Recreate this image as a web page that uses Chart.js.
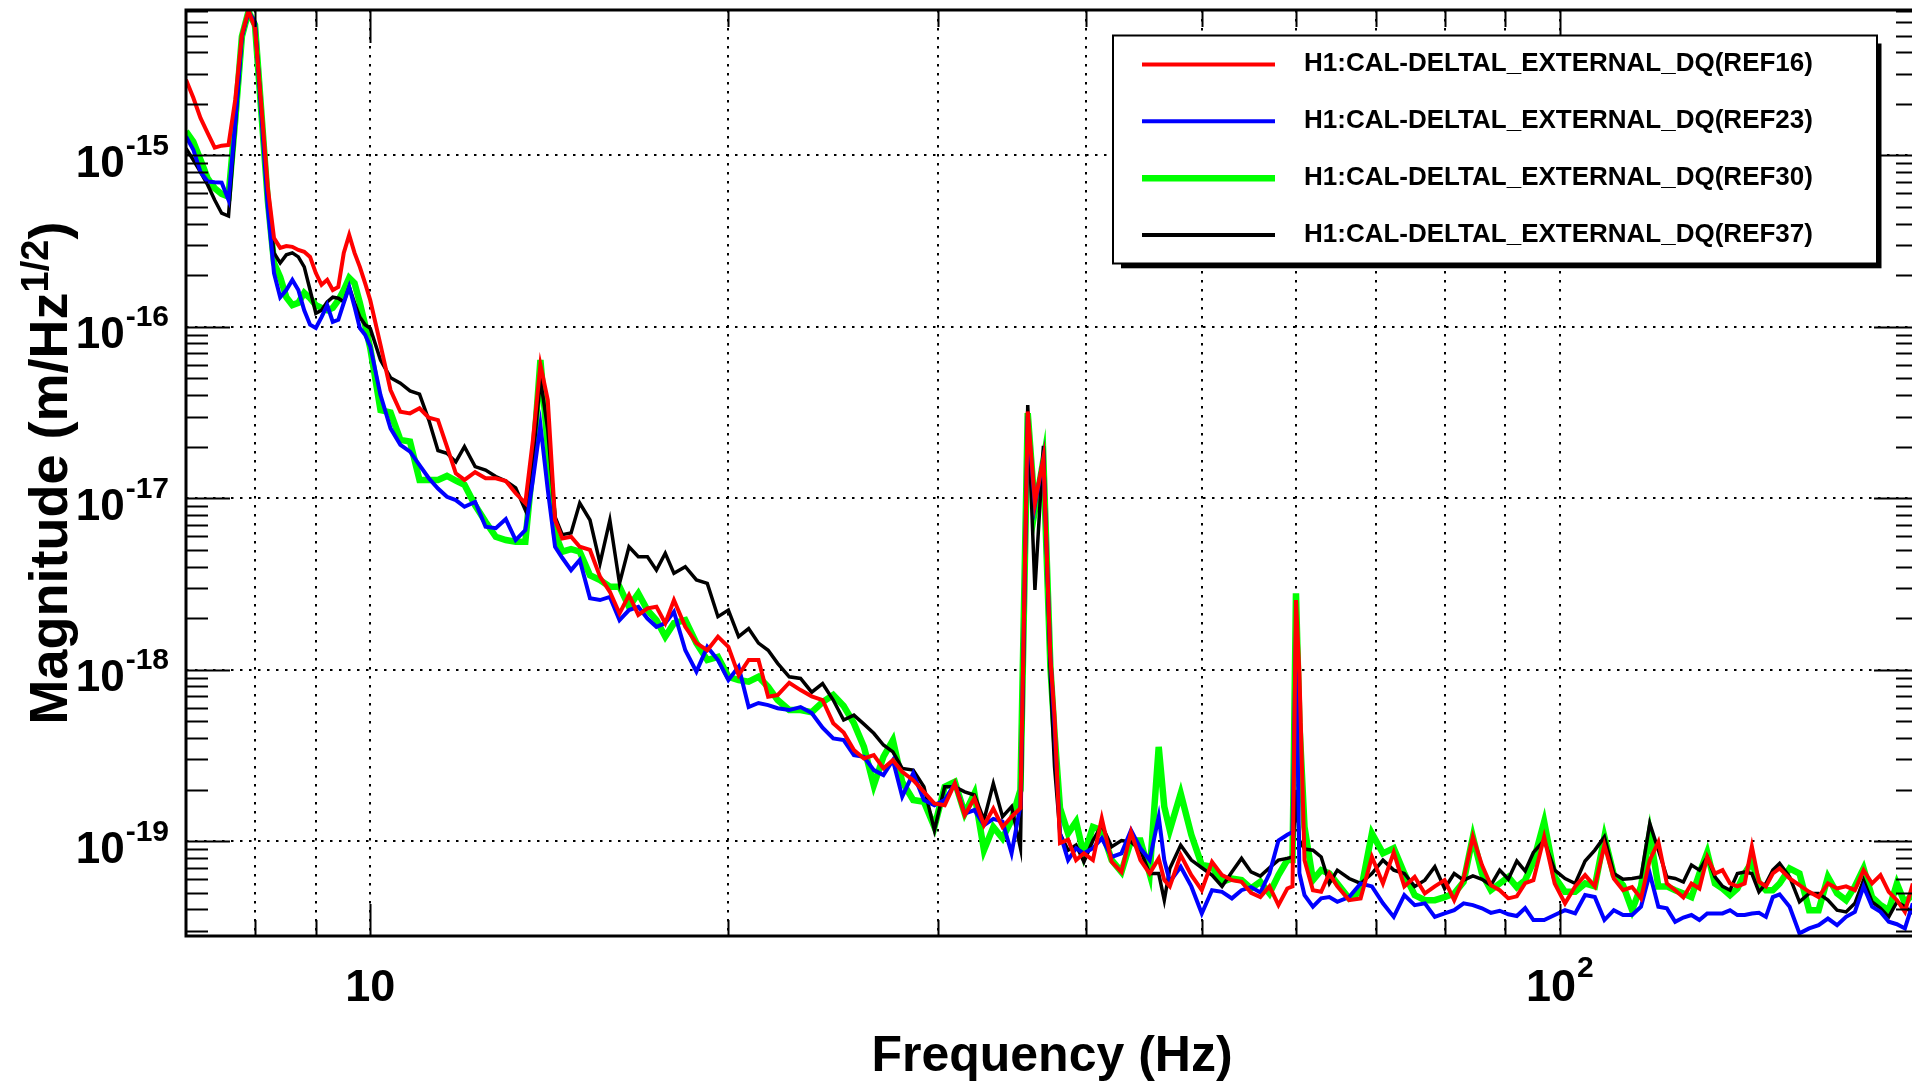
<!DOCTYPE html>
<html>
<head>
<meta charset="utf-8">
<title>H1:CAL-DELTAL_EXTERNAL_DQ</title>
<script src="https://cdn.jsdelivr.net/npm/chart.js@4.4.1/dist/chart.umd.min.js"></script>
<style>
  html, body { margin: 0; padding: 0; background: #fff; overflow: hidden; }
  #grafica { display: block; }
</style>
</head>
<body>
<canvas id="grafica" width="1925" height="1082"></canvas>
<script>

const freqs = [
  7.0,7.1,7.2,7.3,7.4,7.5,7.6,7.7,7.8,7.9,8.0,8.1,8.2,8.3,8.4,8.5,8.6,8.7,8.8,8.9,9.0,9.1,9.2,9.3,9.4,9.5,9.6,9.7,9.8,9.9,
  10.0,10.2,10.4,10.6,10.8,11.0,11.2,11.4,11.6,11.8,12.0,12.25,12.5,12.75,13.0,13.25,13.5,
  13.7,13.9,14.1,14.3,14.5,14.75,15.0,15.3,15.6,15.9,16.2,16.5,16.8,17.1,17.4,17.7,18.0,
  18.4,18.8,19.2,19.6,20.0,20.4,20.8,21.2,21.6,22.0,22.5,23.0,23.5,24.0,
  24.5,25.0,25.5,26.0,26.5,27.0,27.5,28.0,28.6,29.2,29.8,30.4,31.0,31.6,32.2,32.8,33.4,34.0,34.6,35.2,
  35.7,36.2,36.8,37.3,37.6,38.0,38.6,39.2,39.8,40.5,41.2,42.0,42.8,
  43.6,44.4,45.2,46.0,46.5,47.0,48.0,49.0,50.0,51.0,52.0,53.0,54.0,55.0,56.0,57.0,58.0,59.0,59.6,
  60.0,60.4,61.0,62.0,63.0,64.0,65.0,66.5,68.0,69.5,71.0,72.5,74.0,75.5,77.0,78.5,80.0,81.5,83.0,84.5,86.0,87.5,89.0,90.5,92.0,93.5,95.0,
  97,99,101,103,105,107,109,111,113,115,117,119,121,123,125,127,129,131,133,135,137,139,141,143,145,147,149,151,153,
  156,159,162,165,168,171,174,177,180,183,186,189,192,195,198
]

const ref16 = [
  2.76e-15,2.17e-15,1.65e-15,1.35e-15,1.11e-15,1.14e-15,1.15e-15,2.11e-15,5.05e-15,7.0e-15,5.54e-15,1.92e-15,6.55e-16,3.30e-16,2.89e-16,2.96e-16,2.93e-16,2.81e-16,2.74e-16,2.56e-16,2.06e-16,1.76e-16,1.88e-16,1.64e-16,1.71e-16,2.70e-16,3.44e-16,2.70e-16,2.24e-16,1.80e-16,
  1.43e-16,7.85e-17,4.28e-17,3.20e-17,3.13e-17,3.35e-17,2.95e-17,2.86e-17,2.00e-17,1.40e-17,1.28e-17,1.42e-17,1.31e-17,1.31e-17,1.26e-17,1.07e-17,9.38e-18,
  2.19e-17,6.0e-17,3.74e-17,7.47e-18,5.84e-18,5.97e-18,5.22e-18,5.0e-18,3.49e-18,2.85e-18,2.13e-18,2.73e-18,2.09e-18,2.28e-18,2.33e-18,1.87e-18,2.55e-18,
  1.78e-18,1.43e-18,1.30e-18,1.56e-18,1.36e-18,9.31e-19,1.14e-18,1.14e-18,6.96e-19,7.12e-19,8.4e-19,7.61e-19,7.0e-19,6.66e-19,
  4.88e-19,4.3e-19,3.40e-19,3.04e-19,3.18e-19,2.66e-19,2.97e-19,2.54e-19,2.27e-19,1.94e-19,1.66e-19,1.62e-19,2.17e-19,1.42e-19,1.78e-19,1.24e-19,1.55e-19,1.21e-19,1.39e-19,1.56e-19,
  3.21e-17,9.4e-18,1.72e-17,1.19e-18,5.32e-19,9.75e-20,1.02e-19,7.76e-20,8.5e-20,7.76e-20,1.36e-19,7.58e-20,6.62e-20,
  1.13e-19,7.76e-20,6.48e-20,7.94e-20,5.93e-20,5.45e-20,8.30e-20,6.34e-20,5.18e-20,7.58e-20,6.34e-20,5.93e-20,5.80e-20,5.0e-20,4.72e-20,5.45e-20,4.24e-20,5.3e-20,5.45e-20,
  2.55e-18,9.55e-19,7.76e-20,5.18e-20,5.07e-20,6.48e-20,5.45e-20,4.53e-20,4.64e-20,8.1e-20,5.67e-20,8.6e-20,5.45e-20,6.19e-20,4.96e-20,5.45e-20,5.93e-20,4.53e-20,6.06e-20,1.06e-19,7.26e-20,5.54e-20,5.18e-20,4.64e-20,4.77e-20,5.70e-20,5.93e-20,
  1.06e-19,5.67e-20,4.34e-20,5.45e-20,6.34e-20,5.45e-20,9.49e-20,6.06e-20,5.18e-20,5.4e-20,4.64e-20,7.76e-20,9.9e-20,5.67e-20,5.18e-20,4.7e-20,5.67e-20,5.3e-20,8.1e-20,6.48e-20,6.78e-20,5.67e-20,5.45e-20,5.67e-20,9.3e-20,5.80e-20,5.45e-20,6.48e-20,6.94e-20,
  6.06e-20,5.54e-20,5.07e-20,4.72e-20,5.67e-20,5.3e-20,5.45e-20,5.18e-20,6.78e-20,5.67e-20,6.34e-20,5.07e-20,4.53e-20,3.87e-20,5.67e-20
]

const ref23 = [
  1.29e-15,1.08e-15,8.0e-16,7.04e-16,6.98e-16,6.94e-16,5.5e-16,1.55e-15,4.94e-15,6.9e-15,5.95e-15,1.72e-15,5.0e-16,2.06e-16,1.49e-16,1.64e-16,1.88e-16,1.64e-16,1.25e-16,1.03e-16,9.85e-17,1.14e-16,1.34e-16,1.07e-16,1.10e-16,1.38e-16,1.71e-16,1.31e-16,9.85e-17,9.0e-17,
  7.7e-17,4.0e-17,2.56e-17,2.05e-17,1.87e-17,1.56e-17,1.31e-17,1.14e-17,1.02e-17,9.77e-18,8.93e-18,9.54e-18,6.83e-18,6.69e-18,7.57e-18,5.71e-18,6.53e-18,
  1.28e-17,2.68e-17,1.12e-17,5.22e-18,4.5e-18,3.81e-18,4.37e-18,2.61e-18,2.55e-18,2.66e-18,1.95e-18,2.23e-18,2.33e-18,1.99e-18,1.78e-18,1.87e-18,2.18e-18,
  1.30e-18,9.75e-19,1.36e-18,1.14e-18,8.71e-19,1.04e-18,6.06e-19,6.4e-19,6.22e-19,5.97e-19,5.82e-19,6.06e-19,5.6e-19,4.6e-19,
  3.98e-19,3.89e-19,3.18e-19,3.11e-19,2.60e-19,2.43e-19,2.97e-19,1.82e-19,2.49e-19,1.74e-19,1.62e-19,1.74e-19,2.17e-19,1.45e-19,1.52e-19,1.24e-19,1.35e-19,1.30e-19,8.5e-20,1.62e-19,
  3.02e-17,9.1e-18,1.72e-17,1.19e-18,4.66e-19,1.11e-19,7.76e-20,9.1e-20,8.5e-20,9.1e-20,1.04e-19,8.1e-20,8.5e-20,
  1.16e-19,9.1e-20,7.76e-20,1.39e-19,7.76e-20,5.8e-20,7.1e-20,5.45e-20,3.79e-20,5.18e-20,5.07e-20,4.64e-20,5.18e-20,5.4e-20,5.02e-20,6.48e-20,1.01e-19,1.09e-19,1.13e-19,
  1.70e-18,6.5e-20,4.85e-20,4.15e-20,4.64e-20,4.72e-20,4.43e-20,4.72e-20,5.67e-20,5.45e-20,4.34e-20,3.62e-20,4.85e-20,4.24e-20,4.34e-20,3.62e-20,3.79e-20,3.96e-20,4.34e-20,4.24e-20,4.06e-20,3.82e-20,3.93e-20,3.75e-20,3.66e-20,4.07e-20,3.47e-20,
  3.47e-20,3.71e-20,3.96e-20,3.79e-20,4.85e-20,4.72e-20,3.47e-20,3.96e-20,3.71e-20,3.71e-20,4.15e-20,6.48e-20,4.15e-20,4.06e-20,3.39e-20,3.59e-20,3.71e-20,3.47e-20,3.79e-20,3.79e-20,3.79e-20,3.96e-20,3.71e-20,3.71e-20,3.79e-20,3.82e-20,3.62e-20,4.72e-20,4.9e-20,
  4.15e-20,2.9e-20,3.1e-20,3.24e-20,3.54e-20,3.24e-20,3.62e-20,3.87e-20,5.45e-20,4.15e-20,3.87e-20,3.39e-20,3.28e-20,3.1e-20,4.34e-20
]

const ref30 = [
  1.38e-15,1.20e-15,9.4e-16,7.35e-16,6.44e-16,5.96e-16,5.75e-16,1.61e-15,4.94e-15,6.9e-15,5.77e-15,1.77e-15,5.5e-16,2.36e-16,1.95e-16,1.49e-16,1.34e-16,1.38e-16,1.58e-16,1.47e-16,1.34e-16,1.29e-16,1.25e-16,1.29e-16,1.43e-16,1.64e-16,1.93e-16,1.80e-16,1.38e-16,1.03e-16,
  7.5e-17,3.27e-17,3.17e-17,2.19e-17,2.14e-17,1.28e-17,1.28e-17,1.28e-17,1.35e-17,1.27e-17,1.20e-17,9.1e-18,7.3e-18,5.97e-18,5.71e-18,5.58e-18,5.58e-18,
  1.61e-17,6.4e-17,2.0e-17,6.24e-18,4.88e-18,5.05e-18,4.88e-18,3.56e-18,3.34e-18,3.05e-18,3.05e-18,2.33e-18,2.79e-18,2.23e-18,1.95e-18,1.56e-18,1.87e-18,
  1.95e-18,1.43e-18,1.14e-18,1.19e-18,9.1e-19,8.71e-19,8.53e-19,9.1e-19,7.94e-19,6.66e-19,5.82e-19,5.82e-19,5.66e-19,6.48e-19,
  7.12e-19,6.14e-19,4.88e-19,3.55e-19,2.12e-19,3.11e-19,3.89e-19,2.22e-19,1.74e-19,1.70e-19,1.21e-19,2.08e-19,2.22e-19,1.45e-19,1.90e-19,8.87e-20,1.21e-19,1.04e-19,1.33e-19,1.99e-19,
  3.14e-17,8.55e-18,1.67e-17,1.04e-18,4.27e-19,1.56e-19,1.11e-19,1.30e-19,8.30e-20,1.21e-19,1.16e-19,7.76e-20,6.62e-20,
  1.01e-19,1.01e-19,6.48e-20,3.55e-19,1.59e-19,1.16e-19,1.90e-19,1.09e-19,7.26e-20,7.1e-20,5.8e-20,6.06e-20,5.93e-20,5.3e-20,5.8e-20,4.96e-20,6.34e-20,7.76e-20,7.76e-20,
  2.79e-18,4.9e-19,1.21e-19,5.93e-20,6.78e-20,6.48e-20,5.67e-20,4.64e-20,5.07e-20,1.11e-19,8.5e-20,9.1e-20,6.48e-20,4.85e-20,4.53e-20,4.53e-20,4.72e-20,4.96e-20,5.8e-20,1.06e-19,6.48e-20,5.18e-20,5.67e-20,6.19e-20,5.4e-20,5.93e-20,7.58e-20,
  1.30e-19,6.19e-20,5.07e-20,5.07e-20,5.67e-20,5.45e-20,1.06e-19,6.34e-20,5.54e-20,3.96e-20,5.45e-20,1.11e-19,5.45e-20,5.45e-20,5.18e-20,4.96e-20,4.72e-20,6.48e-20,8.6e-20,5.67e-20,5.3e-20,4.85e-20,5.3e-20,6.48e-20,7.58e-20,5.73e-20,5.18e-20,5.18e-20,5.67e-20,
  6.94e-20,6.48e-20,3.96e-20,3.96e-20,6.19e-20,4.96e-20,4.53e-20,5.45e-20,6.94e-20,4.72e-20,4.24e-20,3.96e-20,5.67e-20,4.34e-20,4.96e-20
]

const ref37 = [
  1.10e-15,9.4e-16,8.0e-16,6.73e-16,5.5e-16,4.6e-16,4.43e-16,1.47e-15,4.94e-15,6.9e-15,5.95e-15,1.84e-15,5.73e-16,2.70e-16,2.36e-16,2.63e-16,2.70e-16,2.56e-16,2.24e-16,1.64e-16,1.20e-16,1.25e-16,1.40e-16,1.49e-16,1.47e-16,1.40e-16,1.71e-16,1.38e-16,1.14e-16,1.03e-16,
  9.8e-17,6.4e-17,5.05e-17,4.69e-17,4.23e-17,4.05e-17,2.86e-17,1.9e-17,1.83e-17,1.63e-17,2.0e-17,1.53e-17,1.46e-17,1.34e-17,1.26e-17,1.15e-17,8.55e-18,
  1.67e-17,4.97e-17,2.51e-17,7.8e-18,6.14e-18,6.27e-18,9.38e-18,7.47e-18,4.17e-18,7.47e-18,3.19e-18,5.22e-18,4.56e-18,4.56e-18,3.81e-18,4.78e-18,3.65e-18,
  3.99e-18,3.34e-18,3.19e-18,2.04e-18,2.23e-18,1.56e-18,1.74e-18,1.43e-18,1.30e-18,1.09e-18,9.1e-19,8.9e-19,7.4e-19,8.3e-19,
  6.66e-19,5.09e-19,5.44e-19,4.82e-19,4.26e-19,3.64e-19,3.32e-19,2.66e-19,2.60e-19,2.08e-19,1.16e-19,2.08e-19,2.08e-19,1.94e-19,1.86e-19,1.33e-19,2.17e-19,1.39e-19,1.59e-19,9.1e-20,
  3.5e-17,2.92e-18,2.02e-17,9.1e-19,2.72e-19,1.11e-19,8.87e-20,9.49e-20,7.58e-20,1.01e-19,1.24e-19,9.3e-20,1.01e-19,
  9.9e-20,8.87e-20,6.48e-20,6.48e-20,4.53e-20,6.94e-20,9.49e-20,7.76e-20,7.0e-20,6.34e-20,5.45e-20,6.62e-20,7.94e-20,6.62e-20,6.26e-20,7.0e-20,7.76e-20,7.94e-20,8.1e-20,
  1.99e-19,1.01e-19,9.0e-20,8.87e-20,8.1e-20,5.67e-20,6.78e-20,6.06e-20,5.67e-20,6.48e-20,7.76e-20,6.78e-20,6.48e-20,5.45e-20,5.93e-20,7.1e-20,5.3e-20,6.48e-20,5.93e-20,6.28e-20,6.0e-20,5.54e-20,6.78e-20,6.0e-20,7.66e-20,6.7e-20,8.6e-20,
  1.01e-19,6.78e-20,6.06e-20,5.67e-20,7.66e-20,8.87e-20,1.06e-19,6.48e-20,6.0e-20,6.06e-20,6.19e-20,1.27e-19,8.87e-20,6.19e-20,6.06e-20,5.78e-20,7.26e-20,6.78e-20,8.1e-20,6.19e-20,5.45e-20,5.18e-20,6.48e-20,6.62e-20,6.48e-20,5.07e-20,5.67e-20,6.78e-20,7.42e-20,
  6.19e-20,4.43e-20,4.96e-20,4.96e-20,4.53e-20,3.96e-20,3.87e-20,4.34e-20,5.93e-20,4.43e-20,4.06e-20,3.62e-20,4.43e-20,4.15e-20,3.79e-20
]

const seriesNames = [
  'H1:CAL-DELTAL_EXTERNAL_DQ(REF16)',
  'H1:CAL-DELTAL_EXTERNAL_DQ(REF23)',
  'H1:CAL-DELTAL_EXTERNAL_DQ(REF30)',
  'H1:CAL-DELTAL_EXTERNAL_DQ(REF37)'
]

// ticks
const xGrid = [8, 9, 10, 20, 30, 40, 50, 60, 70, 80, 90, 100]
const xLabels = [10, 100]
const yDecades = [1e-19, 1e-18, 1e-17, 1e-16, 1e-15]
const yMinor = [2, 3, 4, 5, 6, 7, 8, 9]
const xRange = [7, 200]
const yRange = [2.8e-20, 7.05e-15]

const W = 1925, H = 1082
const area = { left: 186, top: 10, right: 1918, bottom: 936 }
const fuente = '"Liberation Sans", Arial, Helvetica, sans-serif'

let potencia = (ctx, base, exp, x, y, bigPx, smallPx, rise, align) => {
  ctx.font = `bold ${bigPx}px ${fuente}`
  let wb = ctx.measureText(base).width
  ctx.font = `bold ${smallPx}px ${fuente}`
  let we = exp ? ctx.measureText(exp).width : 0
  let total = wb + (exp ? we + 1 : 0)
  let x0 = align === 'right' ? x - total : x - total / 2
  ctx.textAlign = 'left'
  ctx.textBaseline = 'alphabetic'
  ctx.font = `bold ${bigPx}px ${fuente}`
  ctx.fillText(base, x0, y)
  if (exp) {
    ctx.font = `bold ${smallPx}px ${fuente}`
    ctx.fillText(exp, x0 + wb + 1, y - rise)
  }
}

const marcoRoot = {
  id: 'marcoRoot',
  afterDatasetsDraw(chart) {
    const { ctx, chartArea: a, scales: { x, y } } = chart
    ctx.save()
    ctx.strokeStyle = '#000'
    ctx.fillStyle = '#000'
    ctx.lineWidth = 2
    ctx.setLineDash([])

    // y ticks, left and right, inside the frame
    ctx.beginPath()
    for (let e = -20; e <= -15; e++) {
      [1].concat(yMinor).forEach(m => {
        let v = m * Math.pow(10, e)
        if (v <= yRange[0] || v >= yRange[1]) return
        let py = Math.round(y.getPixelForValue(v)) + 0.5
        let len = m === 1 ? 44 : 22
        ctx.moveTo(a.left, py); ctx.lineTo(a.left + len, py)
        ctx.moveTo(a.right, py); ctx.lineTo(a.right - len, py)
      })
    }
    xGrid.forEach(v => {
      let px = Math.round(x.getPixelForValue(v)) + 0.5
      let len = xLabels.includes(v) ? 32 : 16
      ctx.moveTo(px, a.bottom); ctx.lineTo(px, a.bottom - len)
      ctx.moveTo(px, a.top); ctx.lineTo(px, a.top + len + 1)
    })
    ctx.stroke()

    ctx.lineWidth = 3
    ctx.strokeRect(a.left, a.top, a.right - a.left, a.bottom - a.top)

    // tick labels
    yDecades.forEach(v => {
      let py = y.getPixelForValue(v)
      let e = Math.round(Math.log10(v))
      potencia(ctx, '10', String(e), 169, py + 21.5, 44, 30, 22, 'right')
    })
    xLabels.forEach(v => {
      let px = x.getPixelForValue(v)
      let e = Math.round(Math.log10(v))
      potencia(ctx, '10', e === 1 ? '' : String(e), px, 1001, 45, 30, 24, 'center')
    })

    // axis titles
    ctx.font = `bold 50px ${fuente}`
    ctx.textAlign = 'center'
    ctx.fillText('Frequency (Hz)', (a.left + a.right) / 2, 1071)

    ctx.save()
    ctx.translate(67, (a.top + a.bottom) / 2)
    ctx.rotate(-Math.PI / 2)
    ctx.textAlign = 'left'
    ctx.font = `bold 54px ${fuente}`
    let t1 = 'Magnitude (m/Hz', t3 = ')'
    let w1 = ctx.measureText(t1).width, w3 = ctx.measureText(t3).width
    ctx.font = `bold 38px ${fuente}`
    let w2 = ctx.measureText('1/2').width
    let x0 = -(w1 + w2 + w3) / 2
    ctx.font = `bold 54px ${fuente}`
    ctx.fillText(t1, x0, 0)
    ctx.fillText(t3, x0 + w1 + w2, 0)
    ctx.font = `bold 38px ${fuente}`
    ctx.fillText('1/2', x0 + w1, -19)
    ctx.restore()

    // legend box with shadow
    let lx = 1113, ly = 35.5, lw = 764, lh = 228
    ctx.fillStyle = '#000'
    ctx.fillRect(lx + 8, ly + 8, lw - 3.5, lh - 3.2)
    ctx.fillStyle = '#fff'
    ctx.fillRect(lx, ly, lw, lh)
    ctx.lineWidth = 2
    ctx.strokeStyle = '#000'
    ctx.strokeRect(lx, ly, lw, lh)
    chart.data.datasets.forEach((ds, i) => {
      let yy = 64.4 + i * 56.9
      ctx.beginPath()
      ctx.strokeStyle = ds.borderColor
      ctx.lineWidth = Math.max(4, ds.borderWidth)
      ctx.moveTo(1142, yy); ctx.lineTo(1275, yy)
      ctx.stroke()
      ctx.fillStyle = '#000'
      ctx.textAlign = 'left'
      ctx.font = `bold 26px ${fuente}`
      ctx.fillText(ds.label, 1304, yy + 6.8)
    })
    ctx.restore()
  }
}

let serie = (label, values, color, width, order) => ({
  label: label,
  data: freqs.map((f, i) => ({ x: f, y: values[i] })),
  borderColor: color,
  borderWidth: width,
  pointRadius: 0,
  tension: 0,
  fill: false,
  order: order
})

const lienzo = document.getElementById('grafica').getContext('2d')

const grafica = new Chart(lienzo, {
  type: 'line',
  data: {
    datasets: [
      serie(seriesNames[0], ref16, '#ff0000', 4, 0),
      serie(seriesNames[1], ref23, '#0000ff', 4, 1),
      serie(seriesNames[2], ref30, '#00ff00', 6.5, 3),
      serie(seriesNames[3], ref37, '#000000', 3.5, 2)
    ]
  },
  options: {
    responsive: false,
    animation: false,
    devicePixelRatio: 1,
    layout: { padding: { left: area.left, top: area.top, right: W - area.right, bottom: H - area.bottom } },
    plugins: { legend: { display: false }, tooltip: { enabled: false } },
    scales: {
      x: {
        type: 'logarithmic',
        min: xRange[0],
        max: xRange[1],
        ticks: { display: false },
        grid: { color: '#000', lineWidth: 2, drawTicks: false },
        border: { display: false, dash: [2.5, 6.5] },
        afterBuildTicks: s => { s.ticks = xGrid.map(v => ({ value: v })) },
        afterFit: s => { s.height = 0 }
      },
      y: {
        type: 'logarithmic',
        min: yRange[0],
        max: yRange[1],
        ticks: { display: false },
        grid: { color: '#000', lineWidth: 2, drawTicks: false },
        border: { display: false, dash: [2.5, 6.5] },
        afterBuildTicks: s => { s.ticks = yDecades.map(v => ({ value: v })) },
        afterFit: s => { s.width = 0 }
      }
    }
  },
  plugins: [marcoRoot]
})

</script>
</body>
</html>
